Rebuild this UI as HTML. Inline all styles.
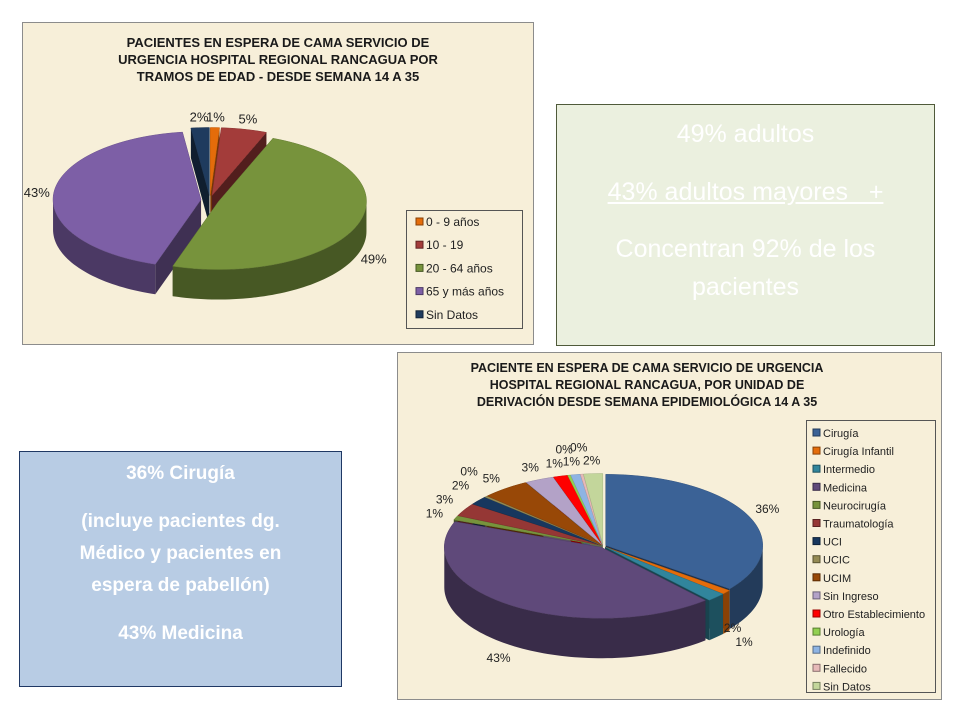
<!DOCTYPE html>
<html><head><meta charset="utf-8">
<style>
body{margin:0;width:960px;height:720px;background:#fff;position:relative;overflow:hidden;font-family:"Liberation Sans",sans-serif}
.box{position:absolute;box-sizing:border-box;color:#fff;text-align:center}
</style></head>
<body>
<svg id="c1" width="960" height="720" style="position:absolute;left:0;top:0">
 <rect x="22.5" y="22.5" width="511" height="322" fill="#f7efd9" stroke="#8c8c8c"/>
 <g font-weight="bold" font-size="13" text-anchor="middle" fill="#1a1a1a">
  <text x="278" y="47">PACIENTES EN ESPERA DE CAMA SERVICIO DE</text>
  <text x="278" y="64">URGENCIA HOSPITAL REGIONAL RANCAGUA POR</text>
  <text x="278" y="81">TRAMOS DE EDAD - DESDE SEMANA  14 A 35</text>
 </g>
 <rect x="397.5" y="352.5" width="544" height="347" fill="#f7efd9" stroke="#8c8c8c"/>
 <g font-weight="bold" font-size="12.5" text-anchor="middle" fill="#1a1a1a">
  <text x="647" y="372">PACIENTE EN ESPERA DE CAMA SERVICIO DE URGENCIA</text>
  <text x="647" y="389">HOSPITAL REGIONAL RANCAGUA, POR UNIDAD DE</text>
  <text x="647" y="406">DERIVACIÓN DESDE SEMANA EPIDEMIOLÓGICA 14 A 35</text>
 </g>
 <g id="pie1"></g><g id="pie2"></g>
 <rect x="406.5" y="210.5" width="116" height="118" fill="#f7efd9" stroke="#555"/>
 <g id="leg1"></g>
 <rect x="806.5" y="420.5" width="129" height="272" fill="#f7efd9" stroke="#555"/>
 <g id="leg2"></g>
</svg>

<div class="box" style="left:556px;top:104px;width:379px;height:242px;background:#ebf0df;border:1px solid #4f5a3a;font-size:25px;line-height:38px;padding-top:10px">
 <div>49% adultos</div>
 <div style="margin-top:20px;text-decoration:underline">43% adultos mayores &nbsp; +</div>
 <div style="margin-top:19px">Concentran 92% de los<br>pacientes</div>
</div>
<div class="box" style="left:19px;top:451px;width:323px;height:236px;background:#b8cce4;border:1px solid #1f3864;font-size:19px;font-weight:bold;line-height:32px;padding-top:6px">
 <div>36% Cirugía</div>
 <div style="margin-top:16px">(incluye pacientes dg.<br>Médico y pacientes en<br>espera de pabellón)</div>
 <div style="margin-top:16px">43% Medicina</div>
</div>

<script>
const ageCategories=["0 - 9 años","10 - 19","20 - 64 años","65 y más años","Sin Datos"];
const ageValues=[1,5,49,43,2];
const ageLabels=["1%","5%","49%","43%","2%"];
const ageColors=["#e46c0a","#a33c3a","#77933c","#7d5fa6","#1f3b5e"];

const derivCategories=["Cirugía","Cirugía Infantil","Intermedio","Medicina","Neurocirugía","Traumatología","UCI","UCIC","UCIM","Sin Ingreso","Otro Establecimiento","Urología","Indefinido","Fallecido","Sin Datos"];
const derivValues=[36,1,2,43,1,3,2,0.3,5,3,1.5,0.3,1,0.3,2];
const derivLabels=["36%","1%","2%","43%","1%","3%","2%","0%","5%","3%","1%","0%","1%","0%","2%"];
const derivColors=["#3b6296","#e46c0a","#31859c","#5f497a","#77933c","#953735","#17375e","#948a54","#984807","#b3a2c7","#ff0000","#92d050","#8eb4e3","#e6b9b8","#c3d69b"];

const NS="http://www.w3.org/2000/svg";
function shade(hex,f){const n=parseInt(hex.slice(1),16);let r=(n>>16)&255,g=(n>>8)&255,b=n&255;return `rgb(${Math.round(r*f)},${Math.round(g*f)},${Math.round(b*f)})`;}
function pie(gid,vals,cols,labels,cats,cfg){
 const g=document.getElementById(gid);
 const tot=vals.reduce((a,b)=>a+b,0);
 let a0=0;const sl=[];
 vals.forEach((v,i)=>{const a1=a0+v/tot*2*Math.PI;sl.push({a0,a1,i});a0=a1;});
 const pt=(s,a,dy)=>{const m=(s.a0+s.a1)/2;const ox=cfg.ex*Math.sin(m),oy=-cfg.ex*0.5*Math.cos(m);return [cfg.cx+ox+cfg.rx*Math.sin(a),cfg.cy+oy-cfg.ry*Math.cos(a)+dy];};
 const cen=(s,dy)=>{const m=(s.a0+s.a1)/2;return [cfg.cx+cfg.ex*Math.sin(m),cfg.cy-cfg.ex*0.5*Math.cos(m)+dy];};
 function arc(s,a,b,dy){const pts=[];const n=Math.max(2,Math.ceil((b-a)/0.03));for(let k=0;k<=n;k++)pts.push(pt(s,a+(b-a)*k/n,dy));return pts;}
 const sides=[],tops=[];
 sl.forEach(s=>{
  const lo=Math.max(s.a0,Math.PI/2),hi=Math.min(s.a1,1.5*Math.PI);
  if(hi>lo){const t=arc(s,lo,hi,0),b=arc(s,lo,hi,cfg.d).reverse();
   sides.push({s,d:"M"+t.concat(b).map(p=>p.join(",")).join("L")+"Z",col:shade(cols[s.i],0.6)});}
  [s.a0,s.a1].forEach(a=>{const c=cen(s,0),p=pt(s,a,0);
   sides.push({s,d:`M${c}L${p}L${p[0]},${p[1]+cfg.d}L${c[0]},${c[1]+cfg.d}Z`,col:shade(cols[s.i],0.5),back:true});});
  const t=arc(s,s.a0,s.a1,0);const c=cen(s,0);
  tops.push({s,d:`M${c}L`+t.map(p=>p.join(",")).join("L")+"Z"});
 });
 sides.filter(x=>x.back).concat(sides.filter(x=>!x.back)).forEach(x=>{const p=document.createElementNS(NS,"path");
  
  
  p.setAttribute("d",x.d);p.setAttribute("fill",x.col);g.appendChild(p);});
 tops.forEach(x=>{const p=document.createElementNS(NS,"path");
  
  
  p.setAttribute("d",x.d);p.setAttribute("fill",cols[x.s.i]);p.setAttribute("stroke",shade(cols[x.s.i],0.85));p.setAttribute("stroke-width","0.5");g.appendChild(p);});
 let prevX=-1e9,prevY=-1e9;
 sl.forEach(s=>{const m=(s.a0+s.a1)/2;let r=cfg.lr;
  let x=cfg.cx+(cfg.rx+r)*Math.sin(m),y=cfg.cy-(cfg.ry+r*0.6)*Math.cos(m)+(Math.cos(m)<0?cfg.d:0)+5;
  if(Math.abs(x-prevX)<22&&Math.abs(y-prevY)<12){y=prevY-14;}
  prevX=x;prevY=y;
  const t=document.createElementNS(NS,"text");
  
  
  t.setAttribute("x",x);t.setAttribute("y",y);t.setAttribute("font-size",cfg.fs);t.setAttribute("text-anchor","middle");t.setAttribute("fill","#222");
  t.textContent=labels[s.i];g.appendChild(t);});
}
function legend(gid,cats,cols,x,y,step,fs){
 const g=document.getElementById(gid);
 cats.forEach((c,i)=>{const r=document.createElementNS(NS,"rect");
  
  
  r.setAttribute("x",x);r.setAttribute("y",y+i*step-7);r.setAttribute("width",7);r.setAttribute("height",7);
  r.setAttribute("fill",cols[i]);r.setAttribute("stroke",shade(cols[i],0.6));g.appendChild(r);
  const t=document.createElementNS(NS,"text");
  
  
  t.setAttribute("x",x+10);t.setAttribute("y",y+i*step+1);t.setAttribute("font-size",fs);t.setAttribute("fill","#222");
  t.textContent=c;g.appendChild(t);});
}
pie("pie1",ageValues,ageColors,ageLabels,ageCategories,{cx:210,cy:200,rx:148,ry:68,d:30,ex:9,lr:26,fs:13});
pie("pie2",derivValues,derivColors,derivLabels,derivCategories,{cx:603,cy:546,rx:157,ry:71,d:40,ex:3,lr:26,fs:12});
legend("leg1",ageCategories,ageColors,416,225,23.2,12);
legend("leg2",derivCategories,derivColors,813,436,18.1,11);
</script>
</body></html>
